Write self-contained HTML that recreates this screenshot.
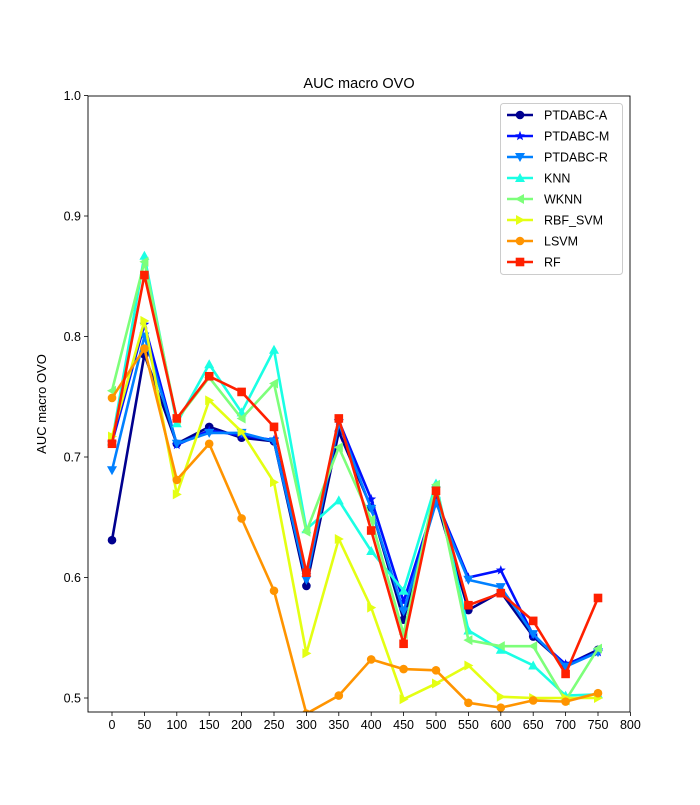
<!DOCTYPE html>
<html><head><meta charset="utf-8"><style>
body{margin:0;background:#fff}
svg text{font-family:"Liberation Sans","DejaVu Sans",sans-serif;fill:#000}
</style></head><body>
<svg id="chart" width="700" height="800" xmlns="http://www.w3.org/2000/svg"></svg>
<script>
const xValues=[0,50,100,150,200,250,300,350,400,450,500,550,600,650,700,750];
const seriesNames=["PTDABC-A","PTDABC-M","PTDABC-R","KNN","WKNN","RBF_SVM","LSVM","RF"];
const sA=[0.631,0.785,0.711,0.725,0.716,0.713,0.593,0.721,0.658,0.565,0.665,0.573,0.588,0.551,0.527,0.540];
const sM=[0.712,0.810,0.710,0.722,0.718,0.714,0.602,0.730,0.665,0.580,0.665,0.600,0.606,0.552,0.528,0.538];
const sR=[0.689,0.800,0.711,0.720,0.720,0.713,0.598,0.728,0.657,0.572,0.662,0.598,0.592,0.553,0.526,0.538];
const sKNN=[0.713,0.867,0.728,0.777,0.737,0.789,0.640,0.664,0.622,0.589,0.678,0.556,0.540,0.527,0.502,0.503];
const sWKNN=[0.755,0.862,0.731,0.766,0.732,0.761,0.638,0.708,0.648,0.553,0.677,0.548,0.543,0.543,0.498,0.541];
const sRBF=[0.717,0.813,0.669,0.747,0.721,0.679,0.537,0.632,0.575,0.499,0.512,0.527,0.501,0.500,0.500,0.500];
const sLSVM=[0.749,0.790,0.681,0.711,0.649,0.589,0.487,0.502,0.532,0.524,0.523,0.496,0.492,0.498,0.497,0.504];
const sRF=[0.711,0.851,0.732,0.767,0.754,0.725,0.604,0.732,0.639,0.545,0.672,0.577,0.587,0.564,0.520,0.583];
const xTicks=[0,50,100,150,200,250,300,350,400,450,500,550,600,650,700,750,800];
const yTicks=[0.5,0.6,0.7,0.8,0.9,1.0];
const allSeries=[sA,sM,sR,sKNN,sWKNN,sRBF,sLSVM,sRF];
const colors=["#00008f","#0010ff","#0080ff","#1affe4","#7dff7a","#e4ff13","#ff9400","#ff2000"];
const markers=["circle","star","tdown","tup","tleft","tright","circle","square"];

const L=88,R=630,T=96,B=712;
const X=v=>112+(v-0)*(598-112)/750;
const Y=v=>698-(v-0.5)*1205;
const svg=document.getElementById('chart');
const NS="http://www.w3.org/2000/svg";
function mk(tag,attrs,parent){const e=document.createElementNS(NS,tag);for(const k in attrs)e.setAttribute(k,attrs[k]);(parent||svg).appendChild(e);return e;}

let t=mk('text',{x:359,y:88,'text-anchor':'middle','font-size':14.5});t.textContent="AUC macro OVO";


t=mk('text',{x:0,y:0,'text-anchor':'middle','font-size':13,transform:'translate(46,404) rotate(-90)'});t.textContent="AUC macro OVO";



xTicks.forEach(v=>{const x=X(v);mk('line',{x1:x,x2:x,y1:B,y2:B+4,stroke:'#000','stroke-width':0.8});
 const tx=mk('text',{x:x,y:B+17,'text-anchor':'middle','font-size':12.5});tx.textContent=v;
 
 });
yTicks.forEach(v=>{const y=Y(v);mk('line',{x1:L-4,x2:L,y1:y,y2:y,stroke:'#000','stroke-width':0.8});
 const tx=mk('text',{x:L-7,y:y+4.5,'text-anchor':'end','font-size':12.5});tx.textContent=v.toFixed(1);
 
 });

const clip=mk('clipPath',{id:'pc'});mk('rect',{x:L,y:T,width:R-L,height:B-T},clip);

function marker(type,x,y,c,g){
 const s=5;
 if(type==='circle')return mk('circle',{cx:x,cy:y,r:4.3,fill:c},g);
 if(type==='square')return mk('rect',{x:x-4.3,y:y-4.3,width:8.6,height:8.6,fill:c},g);
 let pts;
 if(type==='tup')pts=[[0,-s],[s,s*0.8],[-s,s*0.8]];
 if(type==='tdown')pts=[[0,s],[s,-s*0.8],[-s,-s*0.8]];
 if(type==='tleft')pts=[[-s,0],[s*0.8,-s],[s*0.8,s]];
 if(type==='tright')pts=[[s,0],[-s*0.8,-s],[-s*0.8,s]];
 if(type==='star'){pts=[];for(let i=0;i<10;i++){const r=i%2?2.2:5.2,a=-Math.PI/2+i*Math.PI/5;pts.push([r*Math.cos(a),r*Math.sin(a)]);}}
 return mk('polygon',{points:pts.map(p=>(x+p[0])+','+(y+p[1])).join(' '),fill:c},g);
}

allSeries.forEach((s,i)=>{
 const g=mk('g',{'clip-path':'url(#pc)'});
 
 
 const p=mk('polyline',{points:s.map((v,j)=>X(xValues[j])+','+Y(v)).join(' '),fill:'none',stroke:colors[i],'stroke-width':2.6,'stroke-linejoin':'round'},g);
 
 
 s.forEach((v,j)=>{const m=marker(markers[i],X(xValues[j]),Y(v),colors[i],g);
  
  });
});
const frame=mk('rect',{x:L,y:T,width:R-L,height:B-T,fill:'none',stroke:'#000','stroke-width':0.9});



const lg=mk('g',{});


mk('rect',{x:500.5,y:103.5,width:122,height:171,rx:3,fill:'#fff',stroke:'#ccc','stroke-width':1},lg);
seriesNames.forEach((n,i)=>{
 const y=115+i*21;
 const e=mk('g',{},lg);
 
 
 mk('line',{x1:507,x2:533,y1:y,y2:y,stroke:colors[i],'stroke-width':2.6},e);
 marker(markers[i],520,y,colors[i],e);
 const tx=mk('text',{x:544,y:y+4.5,'font-size':12.5},e);tx.textContent=n;
});
</script>
</body></html>
